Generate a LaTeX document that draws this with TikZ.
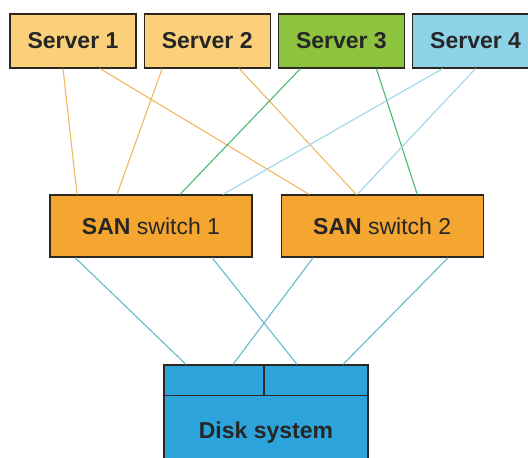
\documentclass[tikz,border=0pt]{standalone}
\usepackage{fontspec}
\setmainfont{Liberation Sans}
\usepackage{tikz}
\usetikzlibrary{positioning}
\definecolor{srvorange}{RGB}{250,208,122}
\definecolor{srvgreen}{RGB}{141,195,63}
\definecolor{srvblue}{RGB}{142,210,232}
\definecolor{sanorange}{RGB}{244,166,48}
\definecolor{diskblue}{RGB}{44,163,219}
\definecolor{lnorange}{RGB}{240,184,96}
\definecolor{lngreen}{RGB}{77,184,112}
\definecolor{lnblue}{RGB}{160,212,234}
\definecolor{lnteal}{RGB}{100,186,202}
\definecolor{edgegray}{RGB}{45,38,30}
\tikzstyle{server}=[rectangle,draw=edgegray,line width=1.2pt,minimum width=126pt,minimum height=54pt,
                    inner sep=0pt,text=black!85,font=\fontsize{23}{27}\selectfont\bfseries]
\tikzstyle{sanbox}=[rectangle,draw=edgegray,line width=1.2pt,fill=sanorange,minimum width=202pt,minimum height=62pt,
                    inner sep=0pt,text=black!85,font=\fontsize{23}{27}\selectfont]
\tikzstyle{diskbox}=[rectangle,draw=edgegray,line width=1.2pt,fill=diskblue,minimum width=204pt,minimum height=136pt,
                    inner sep=0pt,text=black!85,font=\fontsize{23}{27}\selectfont\bfseries]
\tikzstyle{link}=[line width=1.1pt]

\begin{document}
\begin{tikzpicture}[x=1pt,y=-1pt,node distance=7pt]
      \clip (0,0) rectangle (528,458);
      % servers
      \node[server,fill=srvorange] (s1) at (73,41) {Server 1};
      \node[server,fill=srvorange,right=of s1] (s2) {Server 2};
      \node[server,fill=srvgreen,right=of s2] (s3) {Server 3};
      \node[server,fill=srvblue,right=of s3] (s4) {Server 4};
      % switches and storage
      \node[sanbox] (san1) at (151,226) {\textbf{SAN} switch 1};
      \node[sanbox,right=28pt of san1] (san2) {\textbf{SAN} switch 2};
      \node[diskbox] (disk) at (266,433) {Disk system};
      \draw[edgegray,line width=1.2pt] ([yshift=-31pt]disk.north west) -- ([yshift=-31pt]disk.north east);
      \draw[edgegray,line width=1.2pt] ([xshift=-2pt]disk.north) -- ([xshift=-2pt,yshift=-31pt]disk.north);
      % server to switch
      \draw[link,lnorange] ([xshift=-10pt]s1.south) -- ([xshift=-74pt]san1.north);
      \draw[link,lnorange] ([xshift=27pt]s1.south) -- ([xshift=-73pt]san2.north);
      \draw[link,lnorange] ([xshift=-45pt]s2.south) -- ([xshift=-34pt]san1.north);
      \draw[link,lnorange] ([xshift=32pt]s2.south) -- ([xshift=-26pt]san2.north);
      \draw[link,lngreen] ([xshift=-41pt]s3.south) -- ([xshift=29pt]san1.north);
      \draw[link,lngreen] ([xshift=35pt]s3.south) -- ([xshift=35pt]san2.north);
      \draw[link,lnblue] ([xshift=-33pt]s4.south) -- ([xshift=72pt]san1.north);
      \draw[link,lnblue] (s4.south) -- ([xshift=-25pt]san2.north);
      % switch to disk
      \draw[link,lnteal] ([xshift=-76pt]san1.south) -- ([xshift=-80pt]disk.north);
      \draw[link,lnteal] ([xshift=61pt]san1.south) -- ([xshift=31pt]disk.north);
      \draw[link,lnteal] ([xshift=-69pt]san2.south) -- ([xshift=-33pt]disk.north);
      \draw[link,lnteal] ([xshift=66pt]san2.south) -- ([xshift=77pt]disk.north);
    \end{tikzpicture}
\end{document}
